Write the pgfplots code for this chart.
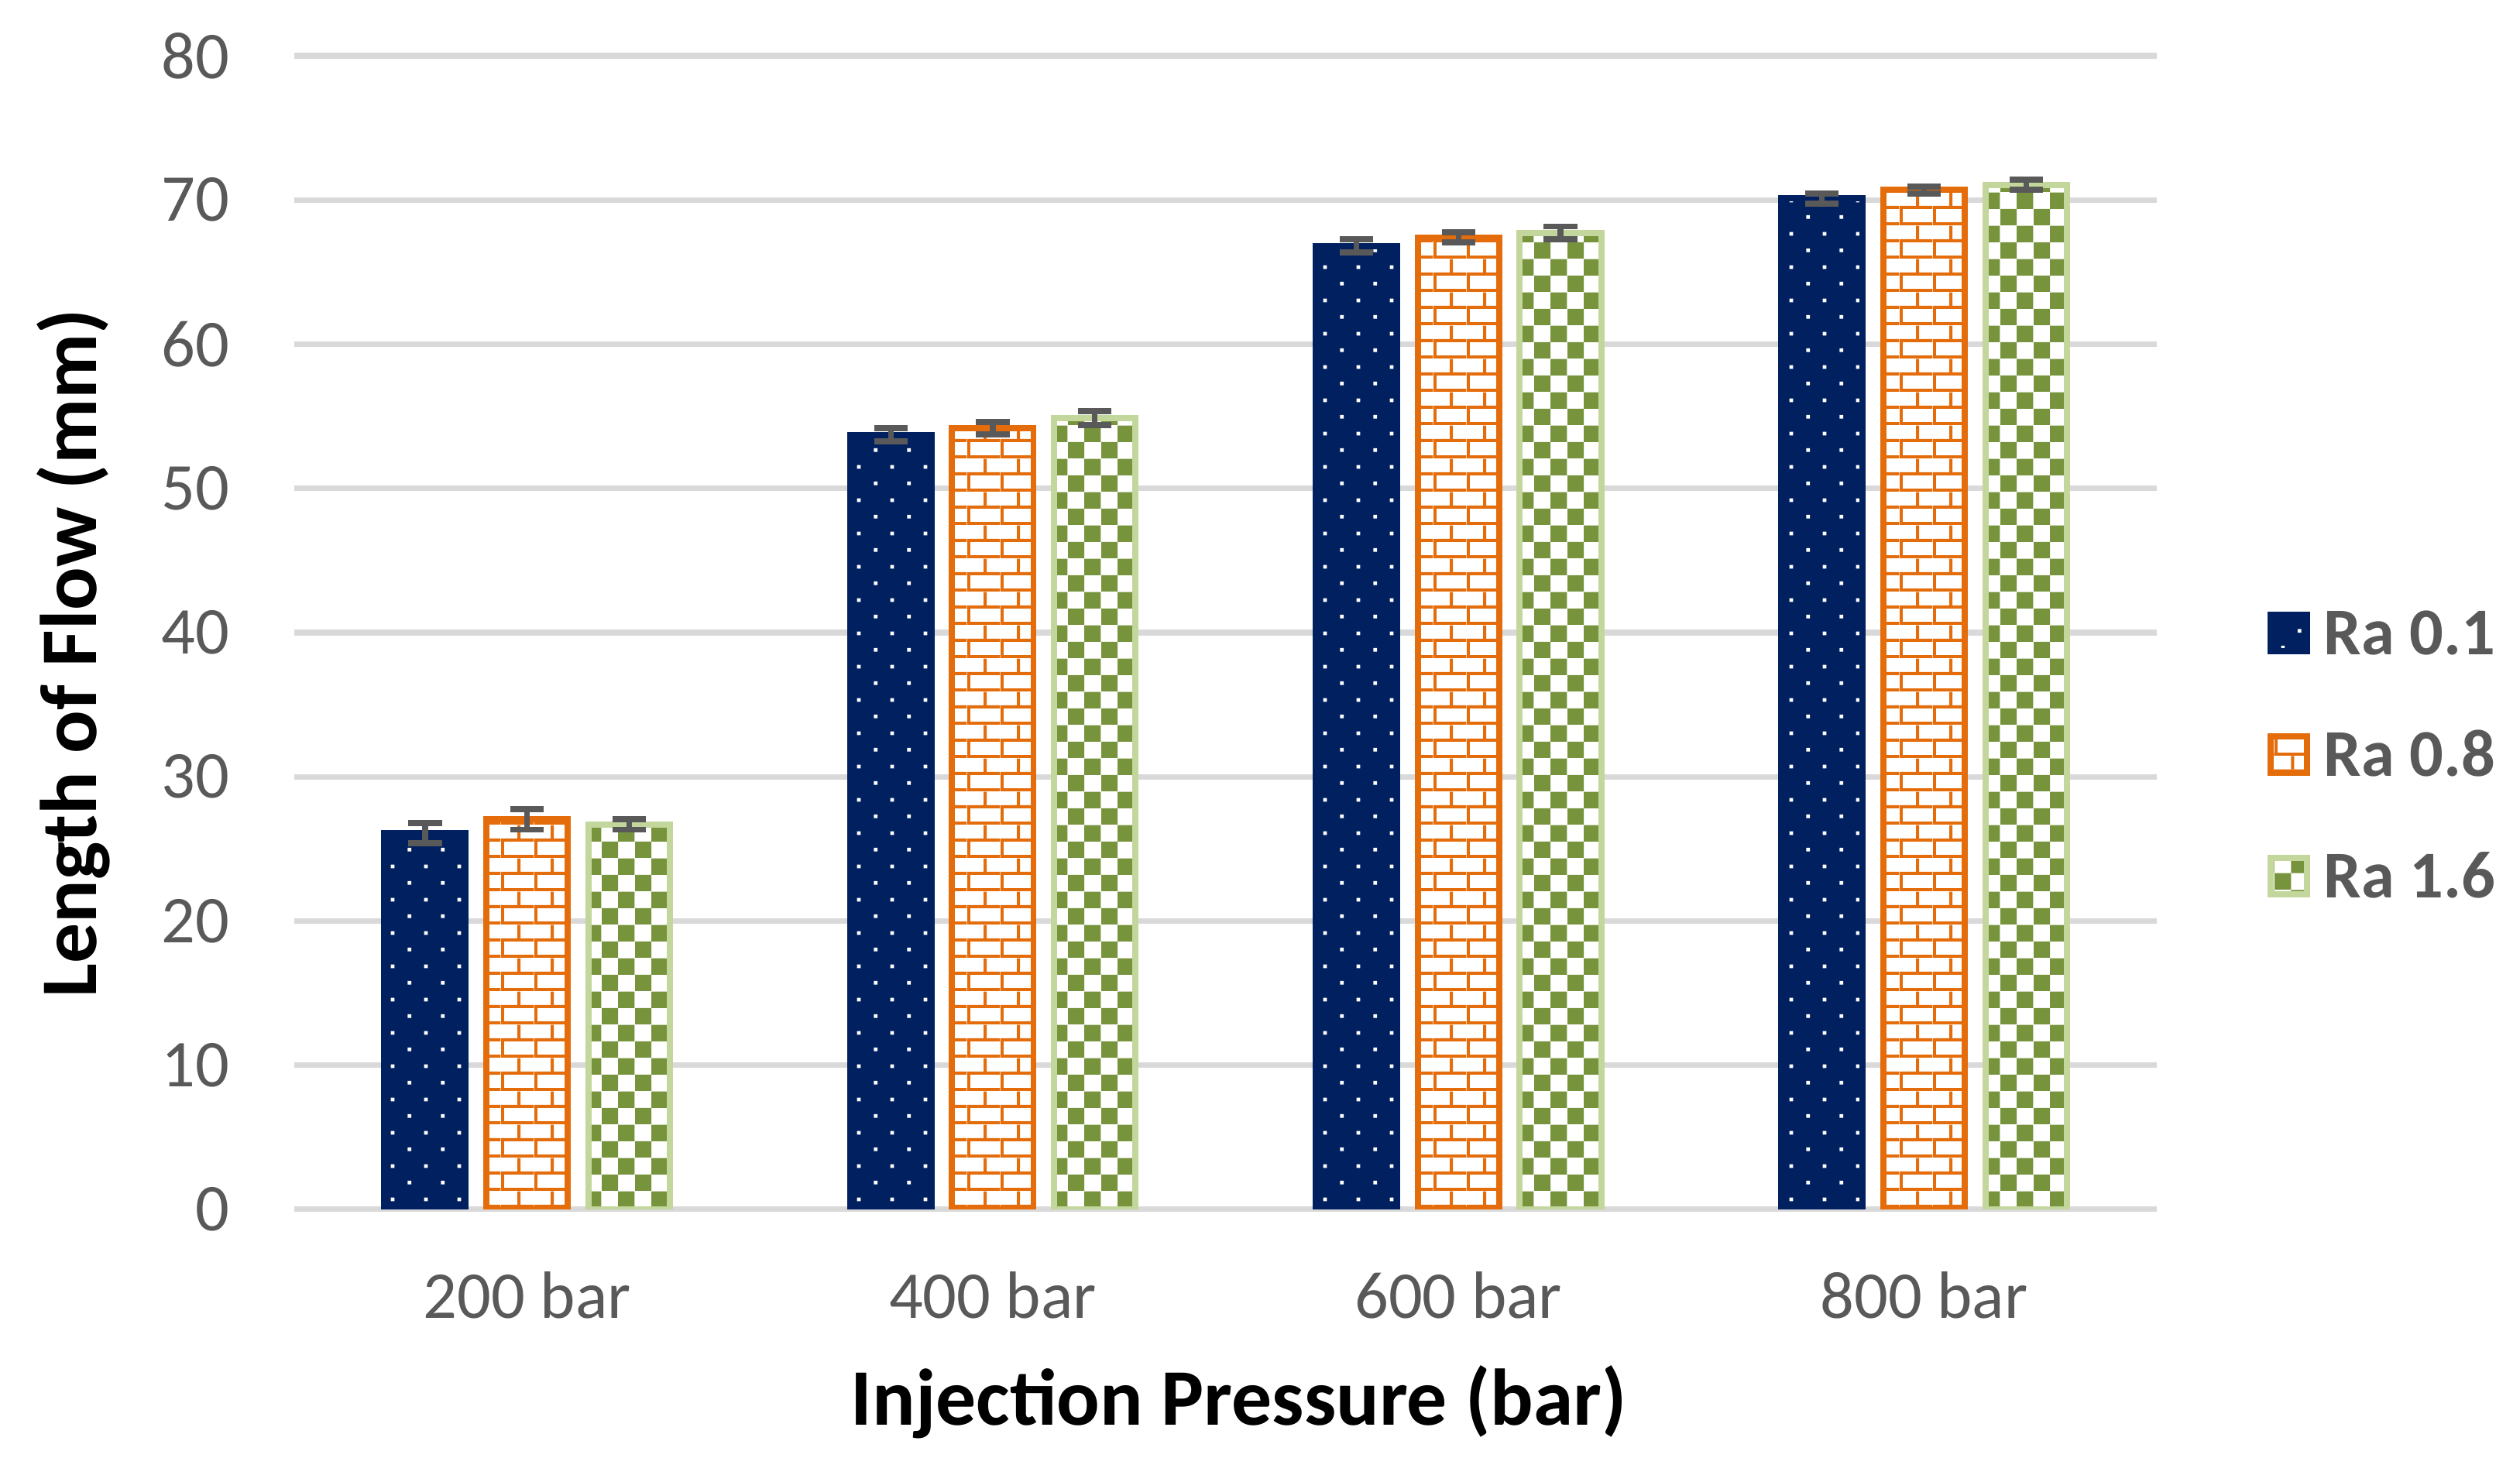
\documentclass[border=0pt]{standalone}
\usepackage{pgfplots}
\pgfplotsset{compat=1.18}
\usepackage{fontspec}
\setmainfont{Carlito}
\usetikzlibrary{patterns.meta}
\definecolor{navy}{HTML}{002060}
\definecolor{orng}{HTML}{E46C0A}
\definecolor{grn}{HTML}{77933C}
\definecolor{lgrn}{HTML}{C3D69B}
\definecolor{txtgray}{HTML}{595959}
\definecolor{gridgray}{HTML}{D9D9D9}

\tikzdeclarepattern{
  name=sparsedots, type=uncolored,
  bounding box={(0pt,0pt) and (6pt,6pt)},
  tile size={(6pt,6pt)},
  code={
    \fill (1.2pt,1.2pt) rectangle (1.85pt,1.85pt);
    \fill (4.2pt,4.2pt) rectangle (4.85pt,4.85pt);
  }}
\tikzdeclarepattern{
  name=smallbricks, type=uncolored,
  bounding box={(0pt,0pt) and (6pt,6pt)},
  tile size={(6pt,6pt)},
  code={
    \fill (0pt,0pt) rectangle (6pt,0.55pt);
    \fill (0pt,3pt) rectangle (6pt,3.55pt);
    \fill (0pt,0.55pt) rectangle (0.55pt,3pt);
    \fill (3pt,3.55pt) rectangle (3.55pt,6pt);
  }}
\tikzdeclarepattern{
  name=checks, type=uncolored,
  bounding box={(0pt,0pt) and (6pt,6pt)},
  tile size={(6pt,6pt)},
  code={
    \fill (0pt,0pt) rectangle (3pt,3pt);
    \fill (3pt,3pt) rectangle (6pt,6pt);
  }}

\begin{document}
\begin{tikzpicture}
\useasboundingbox (-52.78pt,-44.6pt) rectangle (399.12pt,216.9pt);
\begin{axis}[
  at={(0pt,0pt)}, anchor=south west,
  scale only axis,
  width=334pt, height=206.9pt,
  ybar=3.7pt, bar width=14.6pt,
  xmin=-0.5, xmax=3.5,
  ymin=0, ymax=80,
  xtick={0,1,2,3},
  xticklabels={200 bar,400 bar,600 bar,800 bar},
  ytick={0,10,...,80},
  major tick length=0pt,
  axis line style={draw=none},
  ymajorgrids,
  grid style={gridgray, line width=1pt},
  /pgf/number format/assume math mode=true,
  tick label style={font=\fontsize{12}{14}\selectfont, text=txtgray},
  xticklabel style={anchor=base, inner sep=0pt, yshift=-19.5pt},
  yticklabel style={anchor=east, inner sep=0pt, xshift=-11.4pt},
  xlabel={Injection Pressure (bar)},
  ylabel={Length of Flow (mm)},
  label style={font=\fontsize{14.4}{16}\selectfont\bfseries, text=black},
  xlabel style={at={(axis description cs:0.5072,-0.187)}, anchor=base, inner sep=0pt},
  ylabel style={at={(axis description cs:-0.1063,0.482)}, anchor=base, inner sep=0pt},
  legend style={at={(axis description cs:1.0596,0.394)}, anchor=west,
    draw=none, fill=none, inner sep=0pt, outer sep=0pt,
    row sep=14.2pt, column sep=2.4pt,
    font=\fontsize{12}{14}\selectfont\bfseries, text=txtgray,
    nodes={inner sep=0pt, outer sep=0pt, text height=7.6pt, text depth=0pt}},
  legend cell align=left,
  legend image code/.code={\draw[#1] (0.55pt,-3.25pt) rectangle (7.05pt,3.25pt);},
  error bars/error bar style={draw=txtgray, line width=1pt},
  error bars/error mark options={draw=txtgray, line width=1.1pt, mark size=3pt, rotate=90},
]
\addplot[draw=navy, line width=1.1pt, fill=navy,
  postaction={pattern=sparsedots, pattern color=white},
  error bars/.cd, y dir=both, y explicit]
  coordinates {(0,26.09) +- (0,0.68) (1,53.71) +- (0,0.46) (2,66.81) +- (0,0.45) (3,70.10) +- (0,0.34)};
\addplot[draw=orng, line width=1.1pt, fill=white,
  postaction={pattern=smallbricks, pattern color=orng},
  error bars/.cd, y dir=both, y explicit]
  coordinates {(0,27.03) +- (0,0.70) (1,54.17) +- (0,0.45) (2,67.39) +- (0,0.35) (3,70.69) +- (0,0.24)};
\addplot[draw=lgrn, line width=1.1pt, fill=white,
  postaction={pattern=checks, pattern color=grn},
  error bars/.cd, y dir=both, y explicit]
  coordinates {(0,26.68) +- (0,0.35) (1,54.87) +- (0,0.46) (2,67.71) +- (0,0.45) (3,71.04) +- (0,0.35)};
\legend{Ra 0.1,Ra 0.8,Ra 1.6}
\end{axis}
\end{tikzpicture}
\end{document}
